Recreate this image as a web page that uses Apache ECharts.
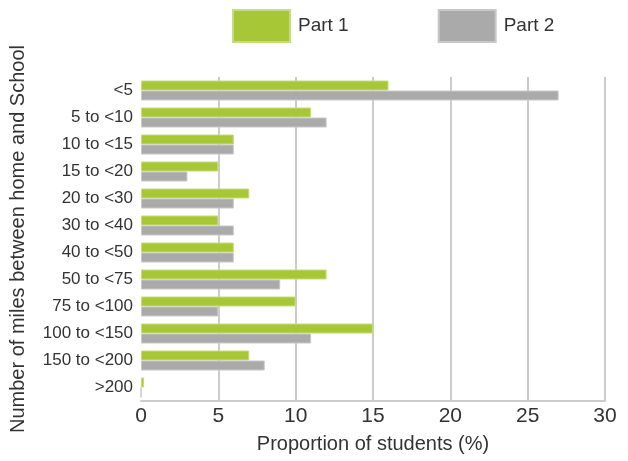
<!DOCTYPE html>
<html>
<head>
<meta charset="utf-8">
<script src="https://cdn.jsdelivr.net/npm/echarts@6/dist/echarts.min.js"></script>
<style>html,body{margin:0;padding:0;background:#fff;}#c{width:628px;height:461px;}</style>
</head>
<body>
<div id="c"></div>
<script>
const categories = ['<5','5 to <10','10 to <15','15 to <20','20 to <30','30 to <40','40 to <50','50 to <75','75 to <100','100 to <150','150 to <200','>200'];
const part1 = [16, 11, 6, 5, 7, 5, 6, 12, 10, 15, 7, 0.2];
const part2 = [27, 12, 6, 3, 6, 6, 6, 9, 5, 11, 8, 0];
const seriesNames = ['Part 1', 'Part 2'];
const xTicks = [0, 5, 10, 15, 20, 25, 30];

const FONT = '"Liberation Sans", Arial, sans-serif';
const chart = echarts.init(document.getElementById('c'));
chart.setOption({
  animation: false,
  textStyle: { fontFamily: FONT },
  legend: {
    left: 232, top: 9, padding: 0,
    itemWidth: 57, itemHeight: 32, itemGap: 89,
    icon: 'rect',
    textStyle: { fontSize: 19, color: '#333', fontFamily: FONT, padding: [0, 0, 0, 3] },
    data: seriesNames
  },
  grid: { left: 141, right: 23, top: 77, bottom: 60, containLabel: false, outerBoundsMode: 'none' },
  xAxis: {
    type: 'value', min: 0, max: 30, interval: 5,
    name: 'Proportion of students (%)', nameLocation: 'middle', nameGap: 33,
    nameTextStyle: { fontSize: 20, color: '#333', fontFamily: FONT },
    axisLine: { show: true, lineStyle: { color: '#ccc', width: 2 } },
    axisTick: { show: false },
    axisLabel: { fontSize: 21, color: '#333', margin: 5, fontFamily: FONT,
      formatter: v => xTicks.includes(v) ? String(v) : '' },
    splitLine: { show: true, showMinLine: false, lineStyle: { color: '#ccc', width: 2 } }
  },
  yAxis: {
    type: 'category', data: categories, inverse: true,
    name: 'Number of miles between home and School', nameLocation: 'middle', nameGap: 113,
    nameTextStyle: { fontSize: 20, color: '#333', fontFamily: FONT },
    axisLine: { show: false }, axisTick: { show: false },
    axisLabel: { fontSize: 17, color: '#333', margin: 8, fontFamily: FONT }
  },
  series: [
    { name: seriesNames[0], type: 'bar', data: part1, barWidth: 10, barGap: '0%',
      itemStyle: { color: '#a7c736', borderColor: '#c5dd7a', borderWidth: 1 } },
    { name: seriesNames[1], type: 'bar', data: part2, barWidth: 10, barGap: '0%',
      itemStyle: { color: '#aaaaaa', borderColor: '#c8c8c8', borderWidth: 1 } }
  ]
});
</script>
</body>
</html>
